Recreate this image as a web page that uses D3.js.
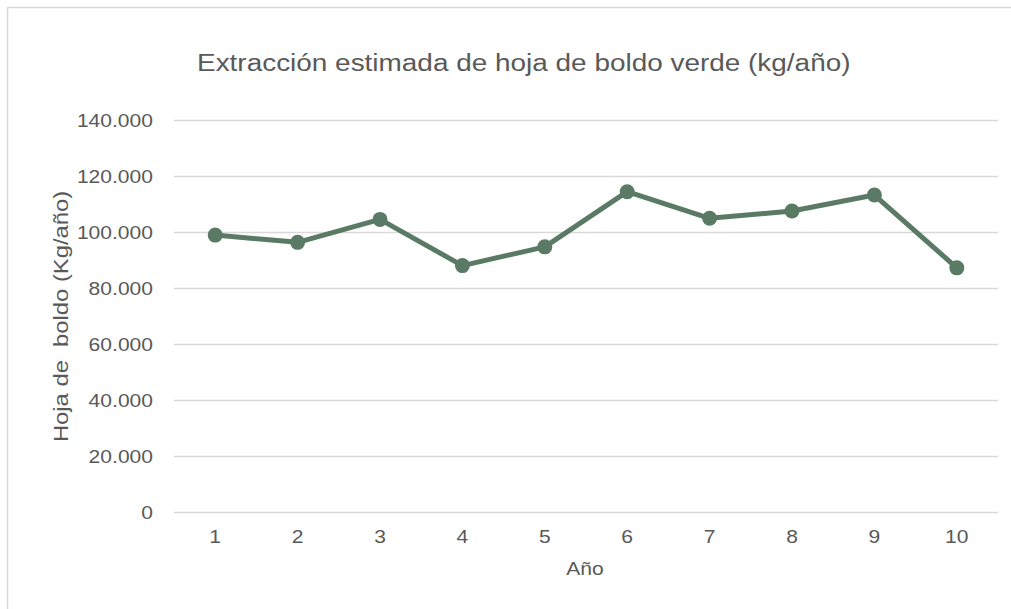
<!DOCTYPE html>
<html>
<head>
<meta charset="utf-8">
<script src="https://cdn.jsdelivr.net/npm/d3@7"></script>
<style>
  body { margin: 0; background: #fff; }
  svg text { font-family: "Liberation Sans", Arial, sans-serif; fill: #595959; }
</style>
</head>
<body>
<div id="chart"></div>
<script>
(function(){

  // data
  var years = ["1", "2", "3", "4", "5", "6", "7", "8", "9", "10"];
  var values = [98900, 96300, 104500, 88000, 94700, 114400, 104900, 107500, 113200, 87200];
  var yTicks = [0, 20000, 40000, 60000, 80000, 100000, 120000, 140000];

  var title = "Extracción estimada de hoja de boldo verde (kg/año)";
  var xTitle = "Año";
  var yTitle = "Hoja de  boldo (Kg/año)";

  var width = 1011;
  var height = 609;
  var left = 174, right = 998, top = 120, bottom = 512;
  var lineColor = "#5a7a65";
  var sx = 1.17; // the text in the picture is a bit wider than Arial

  var svg = d3.select("#chart")
    .append("svg")
    .attr("width", width)
    .attr("height", height);

  // chart area border (only top and left show in the crop)
  svg.append("rect")
    .attr("x", 7.5)
    .attr("y", 7.5)
    .attr("width", width + 20)
    .attr("height", height + 20)
    .attr("fill", "none")
    .attr("stroke", "#d9d9d9")
    .attr("stroke-width", 1.5);

  var x = d3.scaleBand()
    .domain(years)
    .range([left, right]);

  var y = d3.scaleLinear()
    .domain([0, 140000])
    .range([bottom, top]);

  var fmt = function(d){
    return d3.format(",")(d).replace(/,/g, ".");
  };

  // gridlines
  svg.append("g")
    .selectAll("line")
    .data(yTicks)
    .enter()
    .append("line")
    .attr("x1", left)
    .attr("x2", right)
    .attr("y1", function(d){ return Math.round(y(d)) + 0.5; })
    .attr("y2", function(d){ return Math.round(y(d)) + 0.5; })
    .attr("stroke", "#d9d9d9")
    .attr("stroke-width", 1.5);

  // y axis labels
  var yAxis = d3.axisLeft(y)
    .tickValues(yTicks)
    .tickFormat(fmt)
    .tickSize(0)
    .tickPadding(21);
  var gy = svg.append("g")
    .attr("transform", "translate(" + left + ",0)")
    .call(yAxis);
  gy.select(".domain").remove();
  gy.selectAll("text")
    .style("font-size", "18px")
    .attr("x", -21 / sx)
    .attr("dy", "0.35em")
    .attr("transform", "scale(" + sx + ",1)")
    .attr("fill", "#595959");

  // x axis labels
  var xAxis = d3.axisBottom(x)
    .tickSize(0)
    .tickPadding(18);
  var gx = svg.append("g")
    .attr("transform", "translate(0," + bottom + ")")
    .call(xAxis);
  gx.select(".domain").remove();
  gx.selectAll("text")
    .style("font-size", "18px")
    .attr("transform", "scale(" + sx + ",1)")
    .attr("fill", "#595959");

  // line
  var line = d3.line()
    .x(function(d, i){ return x(years[i]) + x.bandwidth() / 2; })
    .y(function(d){ return y(d); });

  svg.append("path")
    .datum(values)
    .attr("d", line)
    .attr("fill", "none")
    .attr("stroke", lineColor)
    .attr("stroke-width", 5)
    .attr("stroke-linejoin", "round");

  svg.append("g")
    .selectAll("circle")
    .data(values)
    .enter()
    .append("circle")
    .attr("cx", function(d, i){ return x(years[i]) + x.bandwidth() / 2; })
    .attr("cy", function(d){ return y(d); })
    .attr("r", 7.5)
    .attr("fill", lineColor);

  // titles
  svg.append("text")
    .attr("transform", "translate(197,71) scale(1.14,1)")
    .attr("text-anchor", "start")
    .style("font-size", "24.5px")
    .text(title);

  svg.append("text")
    .attr("transform", "translate(585,575) scale(" + sx + ",1)")
    .attr("text-anchor", "middle")
    .style("font-size", "18px")
    .text(xTitle);

  svg.append("text")
    .attr("transform", "translate(68,316.5) rotate(-90) scale(1.19,1)")
    .attr("text-anchor", "middle")
    .attr("xml:space", "preserve")
    .style("white-space", "pre")
    .style("font-size", "20px")
    .text(yTitle);

})();
</script>
</body>
</html>
